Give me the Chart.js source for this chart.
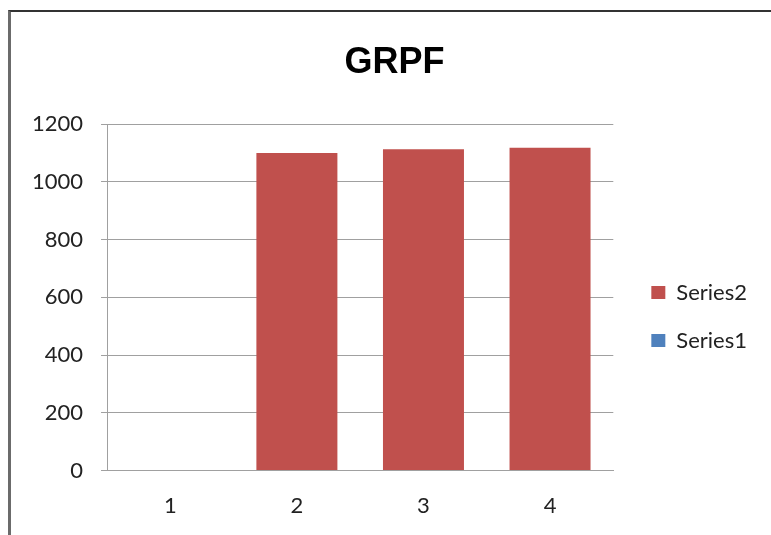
<!DOCTYPE html>
<html>
<head>
<meta charset="utf-8">
<title>GRPF</title>
<script src="https://cdn.jsdelivr.net/npm/chart.js@4.4.1/dist/chart.umd.min.js"></script>
<style>
    html, body {
        margin: 0;
        padding: 0;
        background: #ffffff;
        overflow: hidden;
    }
    .frame {
        position: absolute;
        left: 8px;
        top: 10px;
        width: 800px;
        height: 560px;
        border-left: 3px solid #6b6b6b;
        border-top: 2px solid #333333;
    }
    .chart-box {
        position: absolute;
        left: 0;
        top: 0;
        width: 790px;
        height: 541px;
    }
</style>
</head>
<body>
<div class="frame"></div>
<div class="chart-box"><canvas id="grpfChart"></canvas></div>
<script>
// chart data
const categories = ["1", "2", "3", "4"];
const series1 = [0, 0, 0, 0];
const series2 = [0, 1100, 1113, 1118];
const yTicks = [0, 200, 400, 600, 800, 1000, 1200];

// widen the legend box (keeps the title centred like Excel) and nudge its items
const legendNudge = {
    id: "legendNudge",
    beforeInit(chart) {
        let origFit = chart.legend.fit;
        chart.legend.fit = function () {
            origFit.call(this);
            this.width += 30;
        };
    },
    afterLayout(chart) {
        let lg = chart.legend;
        lg.left += 12;
        lg.right += 12;
        lg.top += 46;
        lg.bottom += 46;
    }
};

document.addEventListener("DOMContentLoaded", function () {
    let ctx = document.getElementById("grpfChart").getContext("2d");

    new Chart(ctx, {
        type: "bar",
        data: {
            labels: categories,
            datasets: [
                {
                    label: "Series1",
                    data: series1,
                    backgroundColor: "#4f81bd",
                    borderWidth: 0
                },
                {
                    label: "Series2",
                    data: series2,
                    backgroundColor: "#c0504d",
                    borderWidth: 0
                }
            ]
        },
        options: {
            responsive: true,
            maintainAspectRatio: false,
            animation: false,
            datasets: {
                bar: {
                    categoryPercentage: 1.0,
                    barPercentage: 0.64
                }
            },
            layout: {
                padding: { left: 14, right: 15, top: 0, bottom: 0 }
            },
            scales: {
                x: {
                    stacked: true,
                    grid: { display: false, drawTicks: false, tickLength: 0 },
                    border: { display: true, color: "#a0a0a0", width: 1 },
                    ticks: {
                        color: "#222",
                        padding: 22,
                        font: { family: "Lato", size: 22 }
                    }
                },
                y: {
                    stacked: true,
                    min: 0,
                    max: 1200,
                    afterBuildTicks: axis => {
                        axis.ticks = yTicks.map(v => ({ value: v }));
                    },
                    grid: {
                        color: "#a0a0a0",
                        lineWidth: 1,
                        tickLength: 6
                    },
                    border: { display: true, color: "#a0a0a0", width: 1 },
                    ticks: {
                        color: "#222",
                        padding: 18,
                        font: { family: "Lato", size: 22 },
                        callback: value => String(value)
                    }
                }
            },
            plugins: {
                title: {
                    display: true,
                    text: "GRPF",
                    color: "#000",
                    font: { family: "Liberation Sans", size: 36, weight: "bold" },
                    padding: { top: 41, bottom: 40 }
                },
                legend: {
                    position: "right",
                    reverse: true,
                    labels: {
                        color: "#222",
                        boxWidth: 14,
                        boxHeight: 13,
                        padding: 26,
                        font: { family: "Lato", size: 22 }
                    }
                },
                tooltip: { enabled: false }
            }
        },
        plugins: [legendNudge]
    });
});
</script>
</body>
</html>
